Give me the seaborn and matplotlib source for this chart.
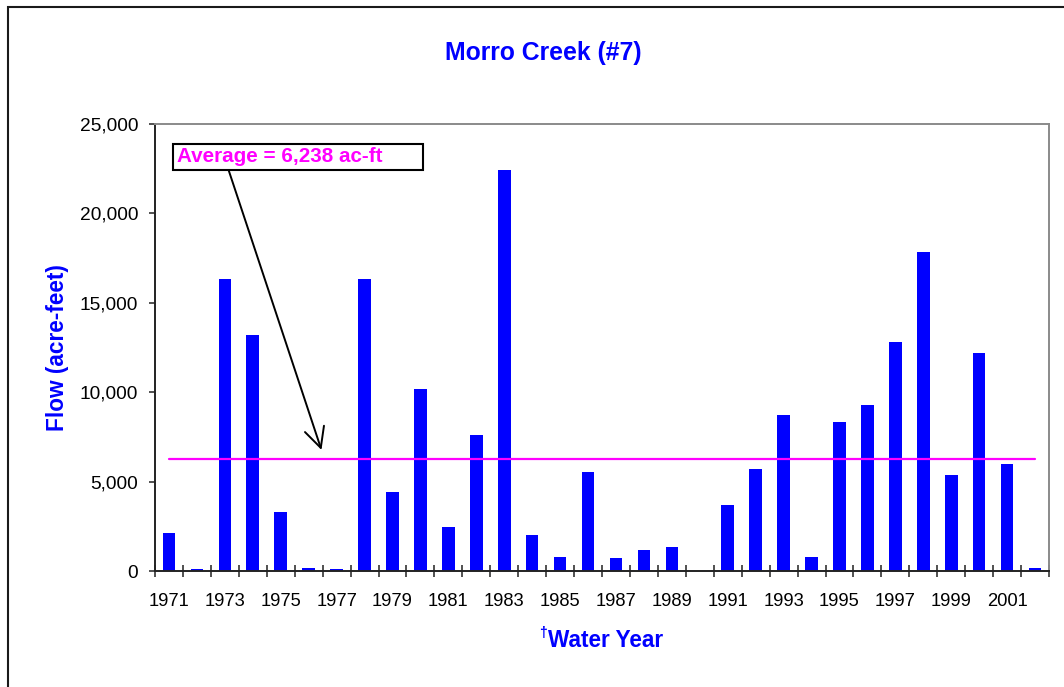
import numpy as np
import pandas as pd
import matplotlib
matplotlib.use("Agg")
import matplotlib.pyplot as plt
from matplotlib.patches import Rectangle
from matplotlib.ticker import FuncFormatter
import seaborn as sns

# Annual flow, Morro Creek, water years 1971-2002 (acre-feet)
years = list(range(1971, 2003))
flows = [2100, 130, 16350, 13200, 3300, 190, 110, 16350, 4400, 10170,
         2460, 7630, 22420, 2000, 800, 5520, 700, 1200, 1370, 0,
         3690, 5690, 8750, 770, 8320, 9290, 12780, 17840, 5360, 12200,
         5970, 150]
average_flow = 6238
title = "Morro Creek (#7)"
y_label = "Flow (acre-feet)"
x_label = "Water Year"
avg_label = "Average = 6,238 ac-ft"

BLUE = "#0000FF"
MAGENTA = "#FF00FF"

sns.set_theme(style="white")
plt.rcParams["font.family"] = ["Liberation Sans", "DejaVu Sans"]

df = pd.DataFrame({"year": [str(y) for y in years], "flow": flows})

fig = plt.figure(figsize=(10.64, 6.87), dpi=100)
ax = fig.add_axes([155 / 1064, 116 / 687, 894 / 1064, 447 / 687])

sns.barplot(data=df, x="year", y="flow", color=BLUE, saturation=1,
            width=0.45, ax=ax, linewidth=0)

# Long-term average as a line across the category centres
ax.plot(np.arange(len(years)), [average_flow] * len(years),
        color=MAGENTA, lw=1.6, zorder=3)

ax.set_xlim(-0.5, len(years) - 0.5)
ax.set_ylim(0, 25000)
ax.set_yticks(np.arange(0, 25001, 5000))
ax.yaxis.set_major_formatter(FuncFormatter(lambda v, p: f"{int(v):,}"))

# Labels on every other year, tick marks on category boundaries
ax.set_xticks(np.arange(0, len(years), 2))
ax.set_xticklabels([str(y) for y in years[::2]])
ax.set_xticks(np.arange(-0.5, len(years), 1), minor=True)
ax.tick_params(axis="x", which="major", length=0, pad=16,
               labelsize=13.2, labelcolor="black")
ax.tick_params(axis="x", which="minor", length=8.5, width=1.1,
               direction="inout", color="#222222", bottom=True)
ax.tick_params(axis="y", which="major", length=4, width=1.1,
               direction="out", color="#222222", left=True, pad=8,
               labelsize=13.8, labelcolor="black")

for side in ("left", "bottom"):
    ax.spines[side].set_color("#222222")
    ax.spines[side].set_linewidth(1.4)
for side in ("top", "right"):
    ax.spines[side].set_color("#8a8a8a")
    ax.spines[side].set_linewidth(1.4)
    ax.spines[side].set_visible(True)

ax.set_ylabel(y_label, color=BLUE, fontsize=16.3, fontweight="bold")
ax.yaxis.set_label_coords(-0.109, 0.5)
ax.yaxis.label.set_verticalalignment("center")

ax.set_xlabel(x_label, color=BLUE, fontsize=16.3, fontweight="bold")
ax.xaxis.set_label_coords(0.5045, -0.156)
ax.xaxis.label.set_verticalalignment("center")
ax.annotate("\u2020", xy=(0, 1), xycoords=ax.xaxis.label,
            ha="right", va="top", fontsize=10, fontweight="bold",
            color=BLUE, xytext=(-1, 2), textcoords="offset points")

fig.text(543 / 1064, 1 - 53 / 687, title, ha="center", va="center",
         fontsize=17.8, fontweight="bold", color=BLUE)

# Boxed callout for the average, with an arrow pointing at the line
ax.add_patch(Rectangle((0.0198, 0.8977), 0.2803, 0.0575,
                       transform=ax.transAxes, facecolor="white",
                       edgecolor="black", lw=1.5, zorder=5, clip_on=False))
ax.text(0.0245, 0.9262, avg_label, transform=ax.transAxes, ha="left",
        va="center", fontsize=14.9, fontweight="bold", color=MAGENTA,
        zorder=6)
ax.annotate("", xy=(0.1862, 0.2708), xycoords="axes fraction",
            xytext=(0.0822, 0.8977), textcoords="axes fraction",
            arrowprops=dict(arrowstyle="->", color="black", lw=1.4,
                            mutation_scale=36, shrinkA=0, shrinkB=0),
            zorder=4)

# Outer frame of the chart object
fig.patches.append(Rectangle((8 / 1064, -0.2), 1.2, 1.2 - 7 / 687,
                             transform=fig.transFigure, fill=False,
                             edgecolor="#1a1a1a", lw=1.5, clip_on=False))

fig.savefig("out.png", dpi=100)
